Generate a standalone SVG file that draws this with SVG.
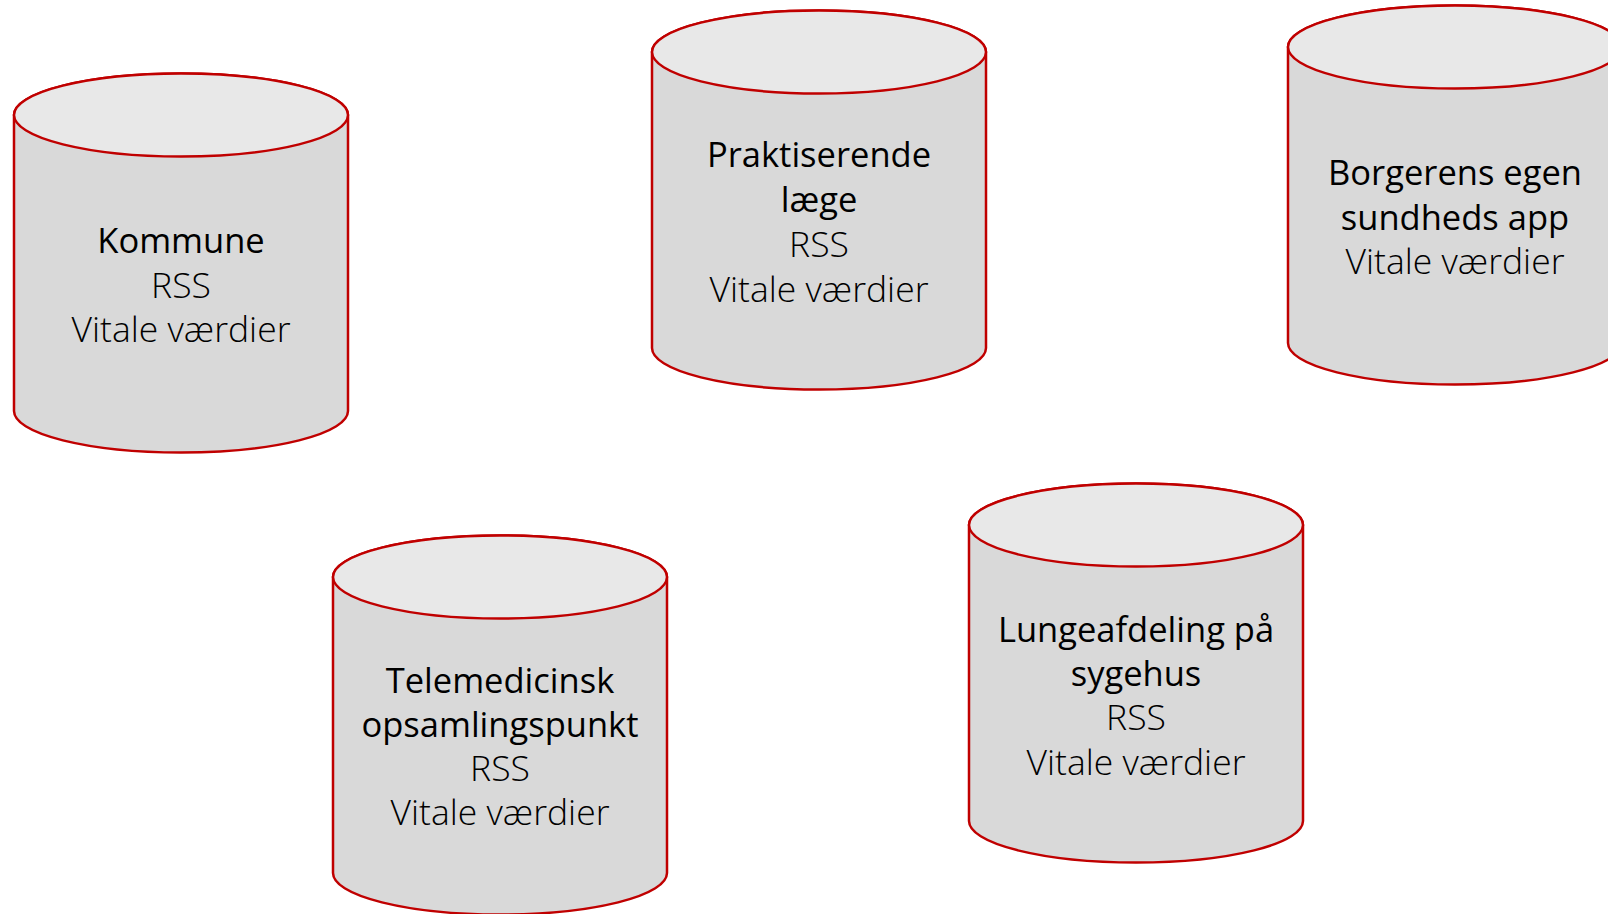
<svg xmlns="http://www.w3.org/2000/svg" width="1608" height="914" viewBox="0 0 1608 914">
<defs>
<style>
.body{fill:#d9d9d9;stroke:#c00000;stroke-width:2.5}
.top{fill:#e8e8e8;stroke:#c00000;stroke-width:2.5}
.t{font-family:"Open Sans","Noto Sans",sans-serif;text-anchor:middle;fill:#000}
.h{font-weight:400;font-size:34.5px}
.s{font-weight:300;font-size:35.5px}
</style>
<g id="cyl">
<path class="body" d="M0,41.5 V337.5 A167,41.5 0 0 0 334,337.5 V41.5 A167,41.5 0 0 0 0,41.5 Z"/>
<ellipse class="top" cx="167" cy="41.5" rx="167" ry="41.5"/>
</g>
</defs>
<rect width="1608" height="914" fill="#fff"/>
<g id="connectors"></g>
<g id="kommune" transform="translate(14,73.5)">
<use href="#cyl"/>
<text class="t h" x="167" y="179">Kommune</text>
<text class="t s" x="167" y="224">RSS</text>
<text class="t s" x="167" y="268">Vitale værdier</text>
</g>
<g id="praktiserende" transform="translate(652,10.5)">
<use href="#cyl"/>
<text class="t h" x="167" y="156">Praktiserende</text>
<text class="t h" x="167" y="201">læge</text>
<text class="t s" x="167" y="246">RSS</text>
<text class="t s" x="167" y="291">Vitale værdier</text>
</g>
<g id="borgerens" transform="translate(1288,5.5)">
<use href="#cyl"/>
<text class="t h" x="167" y="179">Borgerens egen</text>
<text class="t h" x="167" y="224">sundheds app</text>
<text class="t s" x="167" y="268">Vitale værdier</text>
</g>
<g id="telemedicinsk" transform="translate(333,535.5)">
<use href="#cyl"/>
<text class="t h" x="167" y="157">Telemedicinsk</text>
<text class="t h" x="167" y="201">opsamlingspunkt</text>
<text class="t s" x="167" y="245">RSS</text>
<text class="t s" x="167" y="289">Vitale værdier</text>
</g>
<g id="lungeafdeling" transform="translate(969,483.5)">
<use href="#cyl"/>
<text class="t h" x="167" y="158">Lungeafdeling på</text>
<text class="t h" x="167" y="202">sygehus</text>
<text class="t s" x="167" y="246">RSS</text>
<text class="t s" x="167" y="291">Vitale værdier</text>
</g>
</svg>
